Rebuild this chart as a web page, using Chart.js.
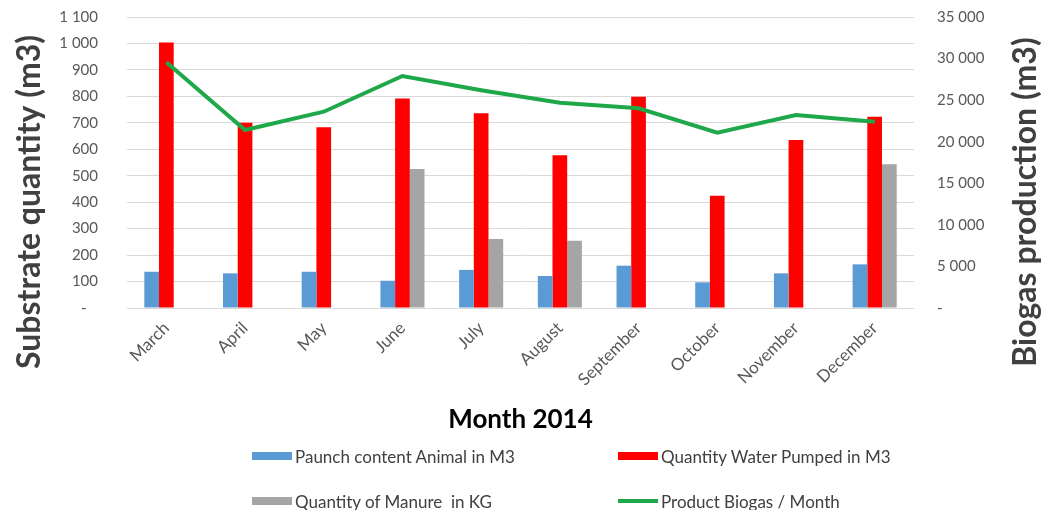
<!DOCTYPE html>
<html>
<head>
<meta charset="utf-8">
<title>Substrate quantity and biogas production 2014</title>
<script src="https://cdn.jsdelivr.net/npm/chart.js@4.4.1/dist/chart.umd.min.js"></script>
<style>
  body { margin: 0; background: #fff; }
  #wrap { position: relative; width: 1048px; height: 510px; }
  #legend {
    position: absolute; left: 252px; top: 445px;
    display: grid; grid-template-columns: 366px 300px; row-gap: 23px;
    font: 17px Lato, sans-serif; color: #404040;
  }
  .item { display: flex; align-items: center; height: 22px; white-space: pre; }
  .sw { width: 40px; margin-right: 3px; }
</style>
</head>
<body>
<div id="wrap">
  <canvas id="myChart"></canvas>
  <div id="legend"></div>
</div>
<script>
const months = ['March', 'April', 'May', 'June', 'July', 'August', 'September', 'October', 'November', 'December'];
const paunch = [137, 131, 137, 103, 144, 121, 160, 97, 131, 165];
const water = [1004, 700, 683, 792, 736, 577, 799, 424, 635, 723];
const manure = [null, null, null, 525, 261, 254, null, null, null, 543];
const biogas = [29550, 21410, 23610, 27900, 26200, 24700, 24020, 21080, 23210, 22410];

const leftTitle = 'Substrate quantity (m3)';
const rightTitle = 'Biogas production (m3)';
const xTitle = 'Month 2014';

const tickFont = {family: 'Lato', size: 15};
const tickColor = '#595959';

function fmt(v) {
    if (v === 0) return '-   ';
    return String(v).replace(/\B(?=(\d{3})+(?!\d))/g, ' ');
}

// y axis titles read bottom to top on both sides
const sideTitles = {
    id: 'sideTitles',
    afterDraw(chart) {
        const ctx = chart.ctx;
        ctx.save();
        ctx.fillStyle = '#404040';
        ctx.font = 'bold 32px Lato';
        ctx.textAlign = 'center';
        ctx.textBaseline = 'middle';
        [[30, leftTitle], [1026, rightTitle]].forEach(([x, t]) => {
            ctx.save();
            ctx.translate(x, 202);
            ctx.rotate(-Math.PI / 2);
            ctx.fillText(t, 0, 0);
            ctx.restore();
        });
        ctx.restore();
    }
};

// tick padding also pads the top of a vertical scale, so reset it
function fitY(width) {
    return (scale) => {
        scale.width = width;
        scale.paddingTop = 17;
        scale.paddingBottom = 0;
    };
}

const ctx = document.getElementById('myChart').getContext('2d');
const myChart = new Chart(ctx, {
    type: 'bar',
    data: {
        labels: months,
        datasets: [{
            label: 'Paunch content Animal in M3',
            data: paunch,
            backgroundColor: '#5b9bd5',
            yAxisID: 'y',
            order: 1
        }, {
            label: 'Quantity Water Pumped in M3',
            data: water,
            backgroundColor: '#ff0000',
            yAxisID: 'y',
            order: 1
        }, {
            label: 'Quantity of Manure  in KG',
            data: manure,
            backgroundColor: '#a5a5a5',
            yAxisID: 'y',
            order: 1
        }, {
            type: 'line',
            label: 'Product Biogas / Month',
            data: biogas,
            borderColor: '#1fa84a',
            backgroundColor: '#1fa84a',
            borderWidth: 4,
            pointRadius: 0,
            tension: 0,
            fill: false,
            yAxisID: 'y2',
            order: 0
        }]
    },
    options: {
        responsive: true,
        maintainAspectRatio: false,
        animation: false,
        layout: {padding: {top: 0, bottom: 70}},
        datasets: {bar: {categoryPercentage: 0.56, barPercentage: 1.0}},
        plugins: {
            legend: {display: false},
            tooltip: {enabled: false}
        },
        scales: {
            x: {
                grid: {display: false},
                border: {display: false},
                ticks: {font: {family: 'Lato', size: 17}, color: tickColor, minRotation: 45, maxRotation: 45, autoSkip: false, padding: 2},
                title: {display: true, text: xTitle, color: '#000', font: {family: 'Lato', size: 26, weight: 'bold'}, padding: {top: 0, bottom: 5}},
                afterFit(scale) { scale.height = 132; }
            },
            y: {
                position: 'left',
                min: 0,
                max: 1100,
                ticks: {stepSize: 100, font: tickFont, color: tickColor, padding: 29, callback: (v) => fmt(v)},
                grid: {color: '#d9d9d9', drawTicks: false},
                border: {display: false},
                afterFit: fitY(127)
            },
            y2: {
                position: 'right',
                min: 0,
                max: 35000,
                ticks: {stepSize: 5000, font: tickFont, color: tickColor, padding: 23, callback: (v) => fmt(v)},
                grid: {display: false, drawTicks: false},
                border: {display: false},
                afterFit: fitY(134)
            }
        }
    },
    plugins: [sideTitles]
});

// html legend in two columns, built from the datasets
const legendEl = document.getElementById('legend');
myChart.data.datasets.forEach((ds) => {
    const item = document.createElement('div');
    item.className = 'item';
    const sw = document.createElement('span');
    sw.className = 'sw';
    sw.style.background = ds.backgroundColor;
    sw.style.height = ds.type === 'line' ? '4px' : '8px';
    item.appendChild(sw);
    item.appendChild(document.createTextNode(ds.label));
    legendEl.appendChild(item);
});
</script>
</body>
</html>
